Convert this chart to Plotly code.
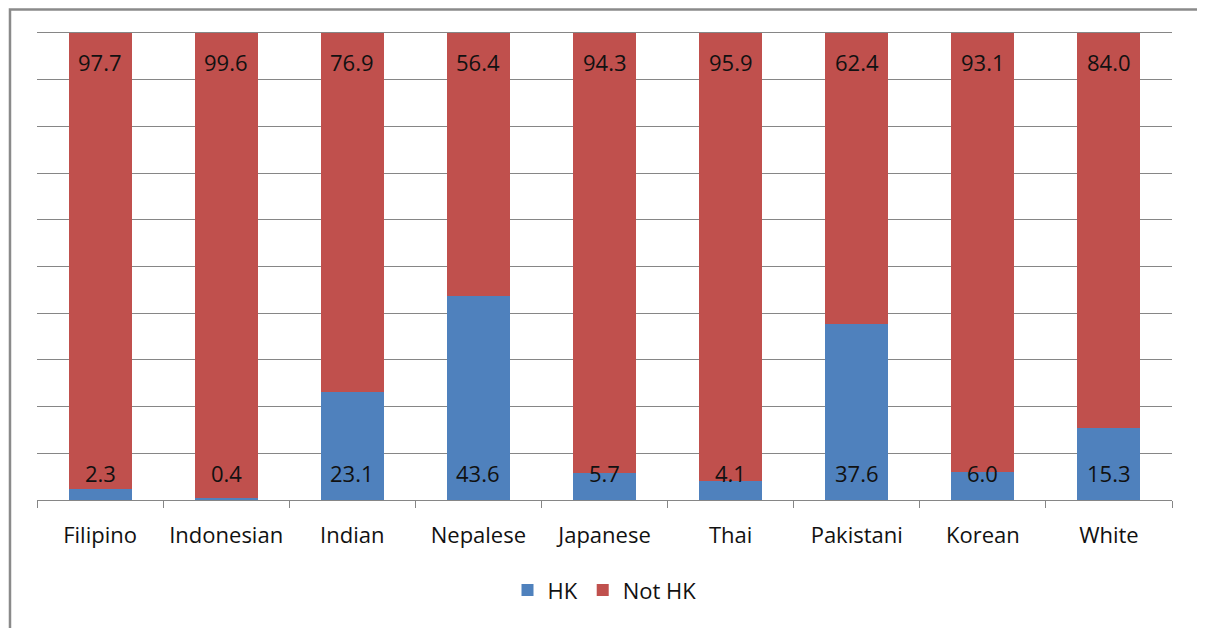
import plotly.graph_objects as go

categories = ["Filipino", "Indonesian", "Indian", "Nepalese", "Japanese", "Thai", "Pakistani", "Korean", "White"]
hk = [2.3, 0.4, 23.1, 43.6, 5.7, 4.1, 37.6, 6.0, 15.3]
not_hk = [97.7, 99.6, 76.9, 56.4, 94.3, 95.9, 62.4, 93.1, 84.0]

BLUE = "#4F81BD"
RED = "#C0504D"
GRID = "#868686"
FONT = "Open Sans"

fig = go.Figure()
fig.add_trace(go.Bar(x=categories, y=hk, name="HK", marker=dict(color=BLUE, line=dict(width=0))))
fig.add_trace(go.Bar(x=categories, y=not_hk, name="Not HK", marker=dict(color=RED, line=dict(width=0))))

annotations = []
for c, v in zip(categories, hk):
    annotations.append(dict(x=c, y=0, xref="x", yref="y", text=f"{v:.1f}", showarrow=False,
                            yanchor="middle", yshift=27, font=dict(family=FONT, size=22, color="#111111")))
for c, v in zip(categories, not_hk):
    annotations.append(dict(x=c, y=100, xref="x", yref="y", text=f"{v:.1f}", showarrow=False,
                            yanchor="middle", yshift=-29, font=dict(family=FONT, size=22, color="#111111")))

fig.update_layout(
    width=1205, height=628,
    margin=dict(l=29, r=41, t=25, b=136, autoexpand=False),
    barmode="stack", barnorm="percent", bargap=0.5,
    plot_bgcolor="white", paper_bgcolor="white",
    font=dict(family=FONT, size=22, color="#111111"),
    showlegend=True,
    legend=dict(orientation="h", x=0.5, xanchor="center", y=-0.193, yanchor="middle", itemwidth=30,
                font=dict(family=FONT, size=22, color="#111111"), traceorder="normal"),
    annotations=annotations,
    shapes=[dict(type="rect", xref="paper", yref="paper", x0=-0.0238, x1=1.0247, y0=-0.4, y1=1.0503,
                 line=dict(color="#8A8A8A", width=2.5), fillcolor="rgba(0,0,0,0)", layer="below")],
)
fig.update_xaxes(showline=True, mirror=True, linecolor=GRID, linewidth=1, ticks="outside", tickson="boundaries",
                 ticklen=7, tickcolor=GRID, showgrid=False, ticklabelstandoff=16, tickangle=0,
                 automargin=False, tickfont=dict(family=FONT, size=22, color="#111111"))
fig.update_yaxes(range=[0, 100], dtick=10, showgrid=True, gridcolor=GRID, gridwidth=1, automargin=False,
                 showticklabels=False, zeroline=False, showline=False)

fig.write_html("out.html")
